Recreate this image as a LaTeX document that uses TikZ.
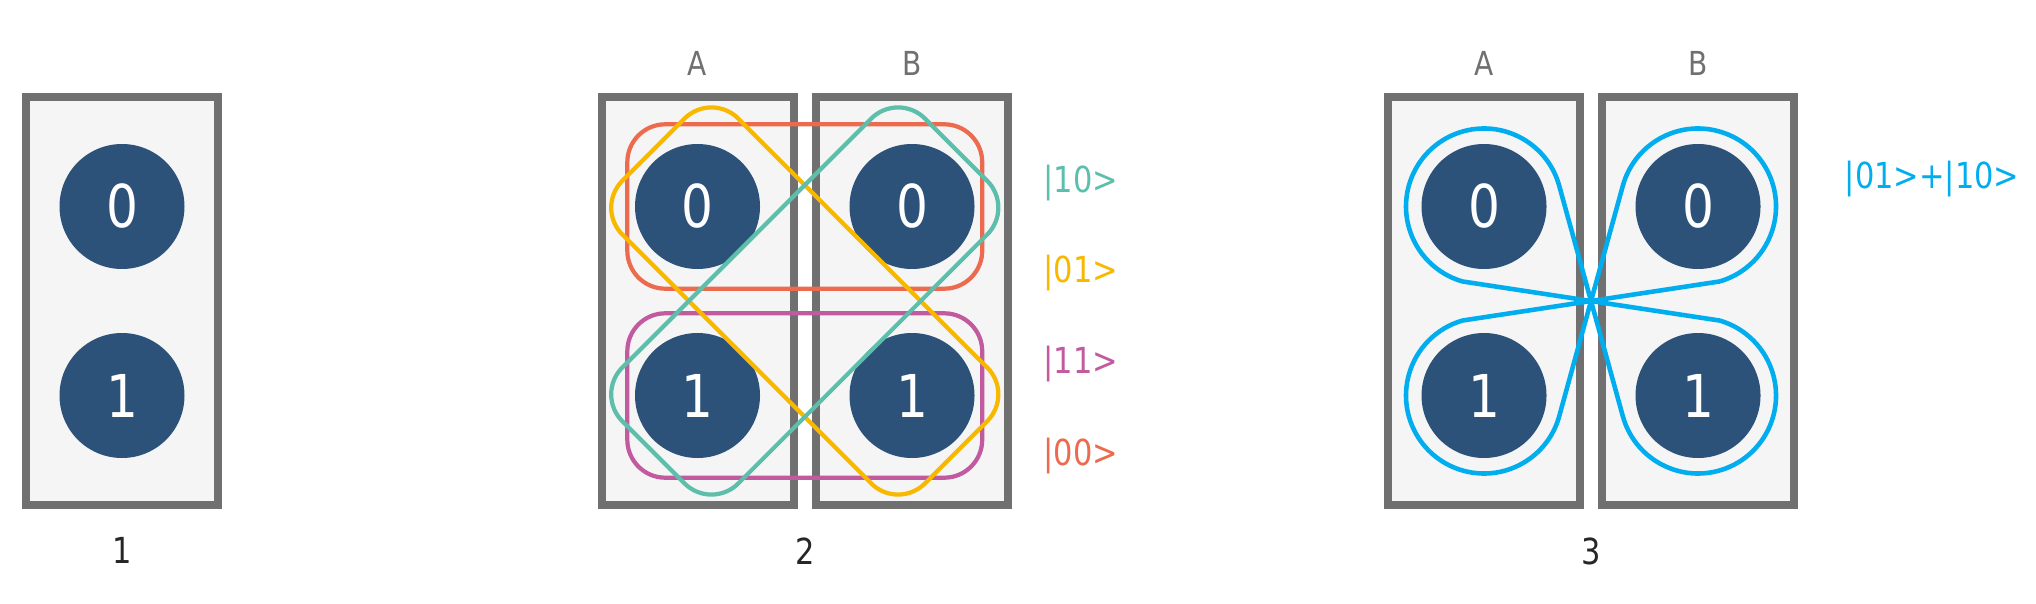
\documentclass[tikz,border=0pt]{standalone}
\usepackage{fontspec}
\setmainfont{DejaVu Sans}[FakeStretch=0.85]
\usetikzlibrary{positioning,fit,calc}

\definecolor{boxgray}{RGB}{112,112,112}
\definecolor{boxfill}{RGB}{245,245,245}
\definecolor{dotblue}{RGB}{44,82,122}
\definecolor{ketteal}{RGB}{94,190,172}
\definecolor{ketyellow}{RGB}{248,184,0}
\definecolor{ketpink}{RGB}{193,90,158}
\definecolor{ketred}{RGB}{236,106,77}
\definecolor{ketblue}{RGB}{0,174,239}

\tikzset{
  register/.style={draw=boxgray, fill=boxfill, line width=0.08cm, minimum width=1.92cm, minimum height=4.08cm, inner sep=0},
  qstate/.style={circle, fill=dotblue, text=white, minimum size=1.25cm, inner sep=0, font=\fontsize{16.8}{18}\selectfont},
  tag/.style={text=boxgray, font=\fontsize{9.4}{11}\selectfont},
  caption/.style={text=black!85, font=\fontsize{10.2}{12}\selectfont},
  ket/.style={font=\fontsize{10.2}{12}\selectfont, anchor=base west, inner sep=0},
  pairloop/.style={draw=#1, line width=1.2pt, rounded corners=0.38cm, inner sep=0},
  entangle/.style={draw=ketblue, line width=1.3pt, line join=round}
}

\begin{document}
\begin{tikzpicture}
	\useasboundingbox (0,0) rectangle (20.36,6.03);
	% Registers and their two states
	\foreach \r/\x in {qbit/1.22, regA/6.975, regB/9.12, entA/14.84, entB/16.98}
		\node[register] (\r) at (\x,3.02) {};
	\foreach \r/\n in {qbit/q, regA/a, regB/b, entA/c, entB/d} {
		\node[qstate] (\n0) at ($(\r)+(0,0.945)$) {0};
		\node[qstate] (\n1) at ($(\r)+(0,-0.945)$) {1};
	}
	\foreach \r/\t in {regA/A, regB/B, entA/A, entB/B}
		\node[tag, above=0.05cm of \r] (tag\r) {\t};

	% Product states
	\node[pairloop=ketred, fit=(a0)(b0), inner xsep=0.07cm, inner ysep=0.19cm] (ket00) {};
	\node[pairloop=ketpink, fit=(a1)(b1), inner xsep=0.07cm, inner ysep=0.19cm] (ket11) {};
	\coordinate (mid) at ($(a0)!.5!(b1)$);
	\node[pairloop=ketyellow, minimum width=4.28cm, minimum height=1.64cm, rotate=-45] (ket01) at (mid) {};
	\node[pairloop=ketteal, minimum width=4.28cm, minimum height=1.64cm, rotate=45] (ket10) at (mid) {};
	\foreach \k/\c/\y in {10/ketteal/4.11, 01/ketyellow/3.21, 11/ketpink/2.30, 00/ketred/1.38}
		\node[ket, text=\c] (leg\k) at (10.43,\y) {|\k>};

	% Entangled state
	\coordinate (cross) at ($(c0)!.5!(d1)$);
	\foreach \n/\s/\e in {c0/15/254, d0/165/-74, c1/-15/-254, d1/195/434}
		\draw[entangle] (cross) -- ($(\n)+(\s:0.78)$) arc[start angle=\s, end angle=\e, radius=0.78] -- cycle;
	\node[ket, text=ketblue] (sum) at (18.44,4.14) {|01>+|10>};

	% Captions
	\node[caption, below=0.16cm of qbit] (cap1) {1};
	\path (regA.south) -- (regB.south) node[caption, midway, below=0.16cm] (cap2) {2};
	\path (entA.south) -- (entB.south) node[caption, midway, below=0.16cm] (cap3) {3};
\end{tikzpicture}
\end{document}
